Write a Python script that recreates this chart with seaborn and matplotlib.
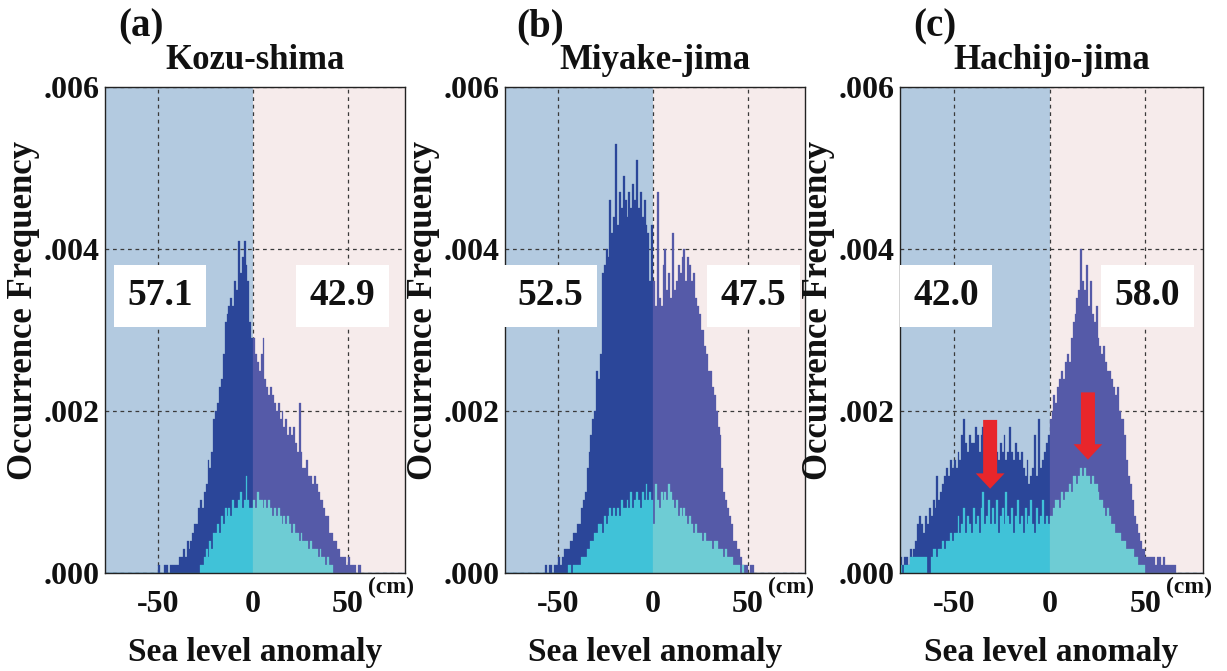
import numpy as np
import pandas as pd
import matplotlib
matplotlib.use("Agg")
import matplotlib.pyplot as plt
import seaborn as sns
from matplotlib.patches import FancyArrow

sns.set_theme(style="white")
plt.rcParams["font.family"] = ["Liberation Serif", "DejaVu Serif"]
plt.rcParams["font.weight"] = "bold"

# ---------------- data (frequencies in units of 1e-4 per 1-cm bin) ----------------
stations = ["Kozu-shima", "Miyake-jima", "Hachijo-jima"]
panel_letters = ["(a)", "(b)", "(c)"]
pct_negative = [57.1, 52.5, 42.0]
pct_positive = [42.9, 47.5, 58.0]

# first bin (left edge, cm) of each series
a_all_start = -51
a_all = [0, 1, 0, 0, 1, 1, 0, 1, 1, 1, 1, 1, 2, 2, 3, 2, 4, 3, 4, 5, 6, 6, 8, 9, 8, 10, 11, 14, 13, 15,
         19, 20, 21, 23, 24, 27, 31, 32, 33, 34, 33, 36, 35, 41, 37, 39, 41, 38, 36, 31, 29,
         29, 27, 26, 25, 27, 29, 24, 23, 22, 23, 22, 21, 20, 21, 19, 20, 18, 19, 17, 18, 17, 18, 16, 15,
         21, 15, 13, 13, 14, 12, 12, 11, 12, 11, 10, 9, 9, 8, 7, 7, 5, 5, 4, 4, 3, 3, 2, 2, 2, 1, 2, 1,
         1, 1, 0, 1, 1]
a_sub_start = -28
a_sub = [1, 1, 2, 3, 2, 4, 3, 5, 5, 6, 5, 7, 6, 8, 7, 8, 7, 9, 8, 8, 9, 10, 8, 9, 12, 9, 8, 8,
         9, 8, 10, 9, 9, 8, 9, 8, 9, 8, 7, 8, 7, 8, 7, 6, 7, 6, 7, 6, 5, 6, 5, 5, 4, 5, 4, 4, 4, 3,
         4, 3, 3, 3, 2, 3, 2, 2, 1, 2, 1, 1]

b_all_start = -57
b_all = [1, 0, 1, 1, 0, 1, 1, 2, 1, 2, 3, 3, 3, 4, 4, 5, 5, 6, 6, 8, 9, 10, 13, 15, 17, 19, 20, 25,
         24, 27, 37, 38, 40, 39, 46, 42, 44, 53, 43, 47, 45, 49, 46, 44, 47, 45, 48, 46, 51, 45, 47,
         44, 46, 43, 42, 36, 43,
         36, 33, 47, 34, 33, 38, 40, 35, 37, 34, 42, 35, 36, 38, 37, 39, 40, 36, 39, 38, 36, 37, 34,
         33, 32, 30, 30, 28, 27, 25, 25, 23, 22, 20, 18, 17, 13, 10, 9, 8, 7, 6, 4, 4, 3, 3, 2, 1, 1,
         1, 0, 1, 1]
b_sub_start = -45
b_sub = [1, 1, 0, 1, 1, 1, 1, 2, 2, 2, 3, 3, 4, 4, 5, 5, 6, 6, 5, 7, 6, 7, 8, 7, 8, 7, 8, 7, 9,
         8, 8, 9, 8, 10, 8, 9, 10, 9, 8, 10, 9, 11, 9, 10, 9,
         6, 11, 9, 8, 10, 9, 10, 9, 11, 10, 9, 8, 9, 7, 8, 7, 8, 7, 6, 7, 6, 5, 6, 5, 5, 5, 4, 5, 4,
         4, 4, 3, 4, 4, 3, 3, 3, 2, 3, 2, 2, 2, 1, 1, 1, 1, 0, 1]

c_all_start = -78
c_all = [2, 1, 2, 2, 1, 3, 2, 3, 4, 6, 7, 6, 5, 7, 6, 8, 7, 9, 8, 12, 9, 10, 11, 12, 13, 12, 14, 13,
         14, 13, 15, 14, 17, 19, 16, 15, 17, 16, 16, 18, 17, 15, 17, 18, 16, 17, 18, 16, 15, 16, 15,
         14, 16, 15, 17, 14, 15, 18, 15, 14, 16, 15, 14, 15, 13, 12, 14, 11, 12, 13, 17, 12, 19, 13,
         14, 15,
         16, 17, 19, 20, 22, 21, 23, 24, 25, 24, 26, 27, 26, 29, 31, 32, 34, 35, 40, 36, 35, 38, 33,
         36, 32, 31, 33, 29, 28, 27, 28, 26, 25, 25, 24, 23, 22, 23, 20, 19, 19, 17, 14, 12, 11, 9,
         7, 6, 5, 4, 3, 3, 2, 2, 2, 2, 2, 1, 2, 2, 1, 2, 1, 1, 1, 1, 1, 1]
c_sub_start = -79
c_sub = [1, 1, 0, 1, 1, 1, 2, 2, 2, 2, 2, 2, 2, 2, 2, 0, 0, 2, 3, 3, 2, 3, 3, 4, 3, 4, 4, 5, 4, 5,
         5, 7, 5, 6, 8, 5, 7, 6, 5, 8, 6, 7, 5, 8, 10, 6, 7, 9, 6, 8,
         6, 9, 5, 7, 8, 6, 10, 7, 6, 8, 5, 7, 9, 6, 7, 5, 8, 6, 7, 9, 6, 5, 8, 6, 7, 9, 6, 7, 6,
         7, 7, 8, 9, 9, 8, 10, 9, 10, 10, 11, 10, 12, 12, 11, 12, 13, 12, 13, 12, 12, 11, 12, 11, 11,
         10, 9, 9, 8, 7, 8, 7, 6, 6, 5, 5, 5, 4, 4, 4, 3, 3, 3, 3, 2, 2, 1, 1, 1, 1]

series = [
    (a_all_start, a_all, a_sub_start, a_sub),
    (b_all_start, b_all, b_sub_start, b_sub),
    (c_all_start, c_all, c_sub_start, c_sub),
]

# ---------------- styling / layout ----------------
col_all = {"neg": "#2b4699", "pos": "#555aa8"}
col_sub = {"neg": "#40c2d8", "pos": "#6eccd4"}
bg_neg = "#b3cae0"
bg_pos = "#f6ebeb"
red = "#e8262b"

W, H = 1227, 671
fig = plt.figure(figsize=(W / 100, H / 100), dpi=100)
axes_px = [(105, 405), (505, 805), (900, 1203)]
top_px, bot_px = 87, 573
box_x = [(-49, 47), (-54, 53), (-54, 51)]
letter_x = [118, 516, 913]


def to_df(start, vals):
    left = start + np.arange(len(vals))
    df = pd.DataFrame({"x": left + 0.5, "f": np.array(vals) * 1e-4})
    df["side"] = np.where(df["x"] < 0, "neg", "pos")
    return df


for i in range(3):
    l, r = axes_px[i]
    ax = fig.add_axes([l / W, 1 - bot_px / H, (r - l) / W, (bot_px - top_px) / H])
    ax.axvspan(-78, 0, color=bg_neg, zorder=0, lw=0)
    ax.axvspan(0, 80, color=bg_pos, zorder=0, lw=0)
    s_all, v_all, s_sub, v_sub = series[i]
    for df, cols in ((to_df(s_all, v_all), col_all), (to_df(s_sub, v_sub), col_sub)):
        for side in ("neg", "pos"):
            d = df[df["side"] == side]
            rng = (-80, 0) if side == "neg" else (0, 80)
            sns.histplot(data=d, x="x", weights="f", binwidth=1, binrange=rng,
                         color=cols[side], alpha=1, edgecolor=cols[side], linewidth=0.2,
                         ax=ax, zorder=2)
    ax.set_xlim(-78, 80)
    ax.set_ylim(0, 0.006)
    ax.set_axisbelow(True)
    ax.set_xticks([-50, 0, 50])
    ax.set_xticklabels(["-50", "0", "50"])
    ax.set_yticks([0, 0.002, 0.004, 0.006])
    ax.set_yticklabels([".000", ".002", ".004", ".006"])
    ax.tick_params(axis="both", length=0, labelsize=23, colors="#111111")
    ax.tick_params(axis="x", pad=12)
    ax.tick_params(axis="y", pad=4)
    ax.grid(True, linestyle=(0, (3, 3)), color="#3a3a3a", linewidth=0.9)
    for sp in ax.spines.values():
        sp.set_color("#222222")
        sp.set_linewidth(1.0)
        sp.set_zorder(5)
    ax.set_xlabel("Sea level anomaly", fontsize=24, fontweight="bold", color="#111111", labelpad=13)
    ax.set_ylabel("Occurrence Frequency", fontsize=25, fontweight="bold", color="#111111")
    ax.yaxis.set_label_coords(-0.215, 0.54)
    ax.set_title(stations[i], fontsize=25, fontweight="bold", color="#111111", pad=13)
    ax.text(0.877, -0.008, "(cm)", transform=ax.transAxes, ha="left", va="top",
            fontsize=17, fontweight="bold", color="#111111")
    bb = dict(facecolor="white", edgecolor="none", boxstyle="square,pad=0.36")
    ax.text(box_x[i][0], 0.00342, f"{pct_negative[i]:.1f}", ha="center", va="center",
            fontsize=27, fontweight="bold", color="#111111", bbox=bb, zorder=6)
    ax.text(box_x[i][1], 0.00342, f"{pct_positive[i]:.1f}", ha="center", va="center",
            fontsize=27, fontweight="bold", color="#111111", bbox=bb, zorder=6)
    fig.text(letter_x[i] / W, 1 - 8 / H, panel_letters[i], ha="left", va="top",
             fontsize=28, fontweight="bold", color="#111111")
    if i == 2:
        for xa, ytop, ytip in ((-31, 0.00189, 0.00104), (20, 0.00223, 0.00140)):
            ax.add_patch(FancyArrow(xa, ytop, 0, ytip - ytop, width=7.3, head_width=15,
                                    head_length=0.00019, length_includes_head=True,
                                    color=red, lw=0, zorder=7))

fig.savefig("out.png", dpi=100)
